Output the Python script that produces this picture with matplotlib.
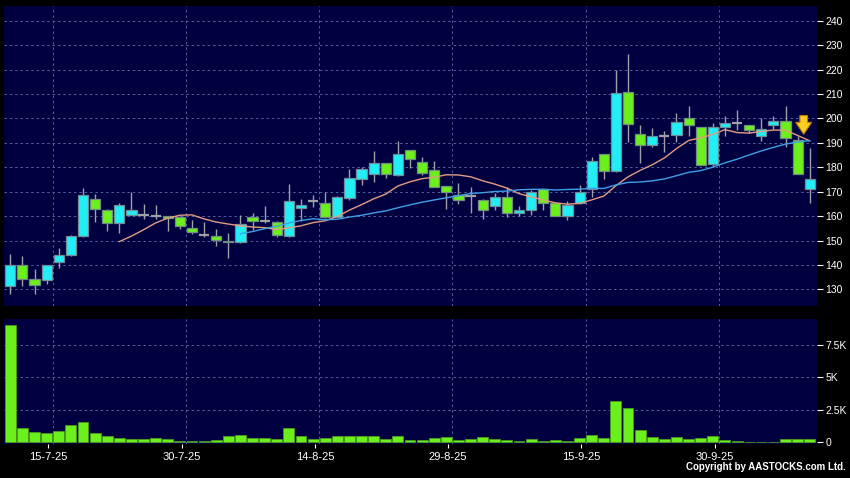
import matplotlib
matplotlib.use("Agg")
import matplotlib.pyplot as plt
import numpy as np
import pandas as pd

# daily candles (price), volume in thousands
opens = [131.2, 140.0, 134.1, 133.9, 141.3, 144.2, 151.9, 167.1, 162.6, 157.3,
         160.5, 160.4, 160.0, 160.0, 159.5, 155.0, 152.3, 152.0, 149.9, 149.2,
         159.5, 157.8, 157.7, 151.7, 163.2, 166.3, 165.5, 159.8, 167.5, 175.0,
         177.2, 181.6, 176.7, 187.0, 182.1, 179.0, 172.3, 168.6, 168.2, 166.7,
         164.0, 167.8, 161.4, 162.6, 170.9, 165.2, 160.2, 165.2, 171.2, 185.3,
         178.4, 210.9, 193.8, 188.9, 192.9, 193.3, 200.0, 196.4, 181.5, 196.5,
         198.0, 197.2, 192.7, 197.3, 198.8, 191.0, 171.1]
highs = [144.3, 143.6, 138.2, 140.0, 146.8, 152.2, 171.6, 168.9, 162.8, 165.4,
         169.8, 164.8, 164.5, 160.2, 160.0, 158.4, 157.4, 154.6, 152.9, 160.3,
         161.1, 164.1, 157.9, 173.1, 167.0, 168.6, 170.0, 168.1, 179.1, 179.9,
         186.6, 181.8, 190.7, 187.2, 184.0, 182.5, 172.5, 173.6, 172.1, 167.1,
         169.5, 172.1, 164.0, 170.8, 171.2, 165.4, 166.0, 172.7, 184.3, 185.5,
         219.8, 226.3, 197.3, 195.9, 194.9, 202.3, 205.2, 196.6, 198.1, 201.1,
         203.3, 197.4, 200.0, 201.1, 205.2, 192.7, 187.9]
lows = [128.2, 131.3, 128.2, 132.3, 138.7, 143.8, 151.5, 157.7, 154.0, 153.2,
        160.3, 158.7, 158.7, 154.0, 154.7, 152.5, 151.6, 147.9, 142.7, 149.0,
        154.3, 157.0, 151.6, 151.5, 158.0, 163.6, 159.3, 159.6, 166.6, 172.9,
        174.1, 175.7, 176.5, 179.8, 176.9, 172.0, 163.0, 164.8, 161.2, 158.9,
        162.3, 159.8, 160.1, 160.5, 162.5, 160.0, 158.4, 164.8, 167.9, 175.0,
        178.2, 190.4, 181.9, 188.1, 186.1, 190.4, 192.7, 180.9, 180.1, 192.7,
        195.1, 194.0, 190.6, 195.7, 188.3, 177.4, 165.4]
closes = [140.0, 134.3, 131.9, 139.8, 144.2, 151.9, 168.7, 163.0, 157.3, 164.6,
          162.3, 160.4, 160.0, 159.3, 156.1, 153.3, 152.3, 150.1, 149.2, 156.8,
          157.8, 157.8, 152.1, 166.2, 164.7, 166.3, 159.8, 167.7, 175.4, 179.1,
          181.6, 177.2, 185.3, 183.3, 177.6, 172.1, 169.9, 166.7, 168.2, 162.7,
          167.8, 161.2, 162.6, 169.8, 165.2, 160.2, 164.4, 170.0, 182.4, 178.4,
          210.2, 197.5, 189.0, 192.9, 192.9, 198.7, 197.4, 180.9, 196.4, 198.1,
          198.0, 195.4, 195.8, 198.8, 192.0, 177.4, 175.2]
volumes = [9.03, 1.09, 0.79, 0.76, 0.87, 1.32, 1.58, 0.74, 0.48, 0.33,
           0.25, 0.25, 0.31, 0.25, 0.08, 0.08, 0.10, 0.15, 0.51, 0.59,
           0.36, 0.36, 0.25, 1.09, 0.48, 0.28, 0.36, 0.46, 0.51, 0.48,
           0.48, 0.23, 0.48, 0.20, 0.16, 0.31, 0.44, 0.18, 0.23, 0.41,
           0.26, 0.21, 0.13, 0.28, 0.13, 0.15, 0.13, 0.36, 0.57, 0.31,
           3.22, 2.65, 0.93, 0.39, 0.26, 0.39, 0.26, 0.31, 0.46, 0.18,
           0.08, 0.03, 0.03, 0.03, 0.26, 0.26, 0.23]
date_pos = [3, 14, 25, 36, 47, 58]
date_labels = ["15-7-25", "30-7-25", "14-8-25", "29-8-25", "15-9-25", "30-9-25"]
price_ticks = list(range(130, 250, 10))
vol_ticks = [0, 2.5, 5, 7.5]
vol_labels = ["0", "2.5K", "5K", "7.5K"]

NAVY = "#000040"
UP = "#22eef6"
DOWN = "#6cf01c"
GRID = "#5262a0"

plt.rcParams["font.family"] = ["Liberation Sans", "DejaVu Sans"]

x = np.arange(len(closes))
o = np.array(opens); c = np.array(closes)
h = np.array(highs); l = np.array(lows)
ma10 = pd.Series(closes).rolling(10).mean()
ma20 = pd.Series(closes).rolling(20).mean()

fig = plt.figure(figsize=(8.5, 4.78), dpi=100, facecolor="black")
ax = fig.add_axes([4 / 850, 172 / 478, 813 / 850, 300 / 478], facecolor=NAVY)
axv = fig.add_axes([4 / 850, 34 / 478, 813 / 850, 125 / 478], facecolor=NAVY)

xlim = (-0.52, 66.6)

# price panel
for a in (ax, axv):
    for s in a.spines.values():
        s.set_visible(False)
    for p in date_pos:
        a.axvline(p + 0.5, color=GRID, lw=0.7, ls=(0, (2.5, 3)), zorder=0)
    a.set_xlim(*xlim)

for t in price_ticks:
    ax.axhline(t, color=GRID, lw=0.7, ls=(0, (2.5, 3)), zorder=0)

ax.vlines(x, l, h, color="#a0a0a8", lw=1, zorder=2)
up = c > o
dn = c < o
dj = c == o
ax.bar(x[up], (c - o)[up], bottom=o[up], width=0.84, color=UP,
       edgecolor="#6f8d98", lw=0.9, zorder=3)
ax.bar(x[dn], (o - c)[dn], bottom=c[dn], width=0.84, color=DOWN,
       edgecolor="#6f8d80", lw=0.9, zorder=3)
ax.hlines(o[dj], x[dj] - 0.42, x[dj] + 0.42, color="#a0a0a8", lw=1.6, zorder=3)

ax.plot(x, ma10, color="#e39c80", lw=1.0, zorder=4)
ax.plot(x, ma20, color="#3ea0e6", lw=1.0, zorder=4)

# down arrow next to the second to last candle
ax.annotate("", xy=(65.5, h[65] - 0.3), xytext=(65.5, h[65] + 9.6),
            arrowprops=dict(arrowstyle="simple,head_length=0.85,head_width=1.15,tail_width=0.55",
                            fc="#ffcc22", ec="#b87c00", lw=0.8), zorder=5)

ax.set_ylim(123.2, 246.0)
ax.set_yticks(price_ticks)
ax.set_yticklabels([str(t) for t in price_ticks])
ax.yaxis.tick_right()
ax.tick_params(axis="y", colors="white", length=4, width=0.8, pad=2, labelsize=7.5,
               labelcolor="white")
ax.tick_params(axis="x", bottom=False, labelbottom=False)

# volume panel
for t in vol_ticks[1:]:
    axv.axhline(t, color=GRID, lw=0.7, ls=(0, (2.5, 3)), zorder=0)
axv.bar(x, volumes, width=0.9, color=DOWN, edgecolor="#4a9a20", lw=0.6, zorder=3)
axv.set_ylim(-0.12, 9.48)
axv.set_yticks(vol_ticks)
axv.set_yticklabels(vol_labels)
axv.yaxis.tick_right()
axv.tick_params(axis="y", colors="white", length=4, width=0.8, pad=2, labelsize=7.5)
axv.set_xticks([p + 0.15 for p in date_pos])
axv.set_xticklabels(date_labels)
axv.tick_params(axis="x", colors="white", length=3, width=0.8, pad=3, labelsize=8)

fig.text(0.995, 0.012, "Copyright by AASTOCKS.com Ltd.", color="white",
         fontsize=7, ha="right", va="bottom", fontweight="bold")

fig.savefig("out.png", dpi=100, facecolor="black")
